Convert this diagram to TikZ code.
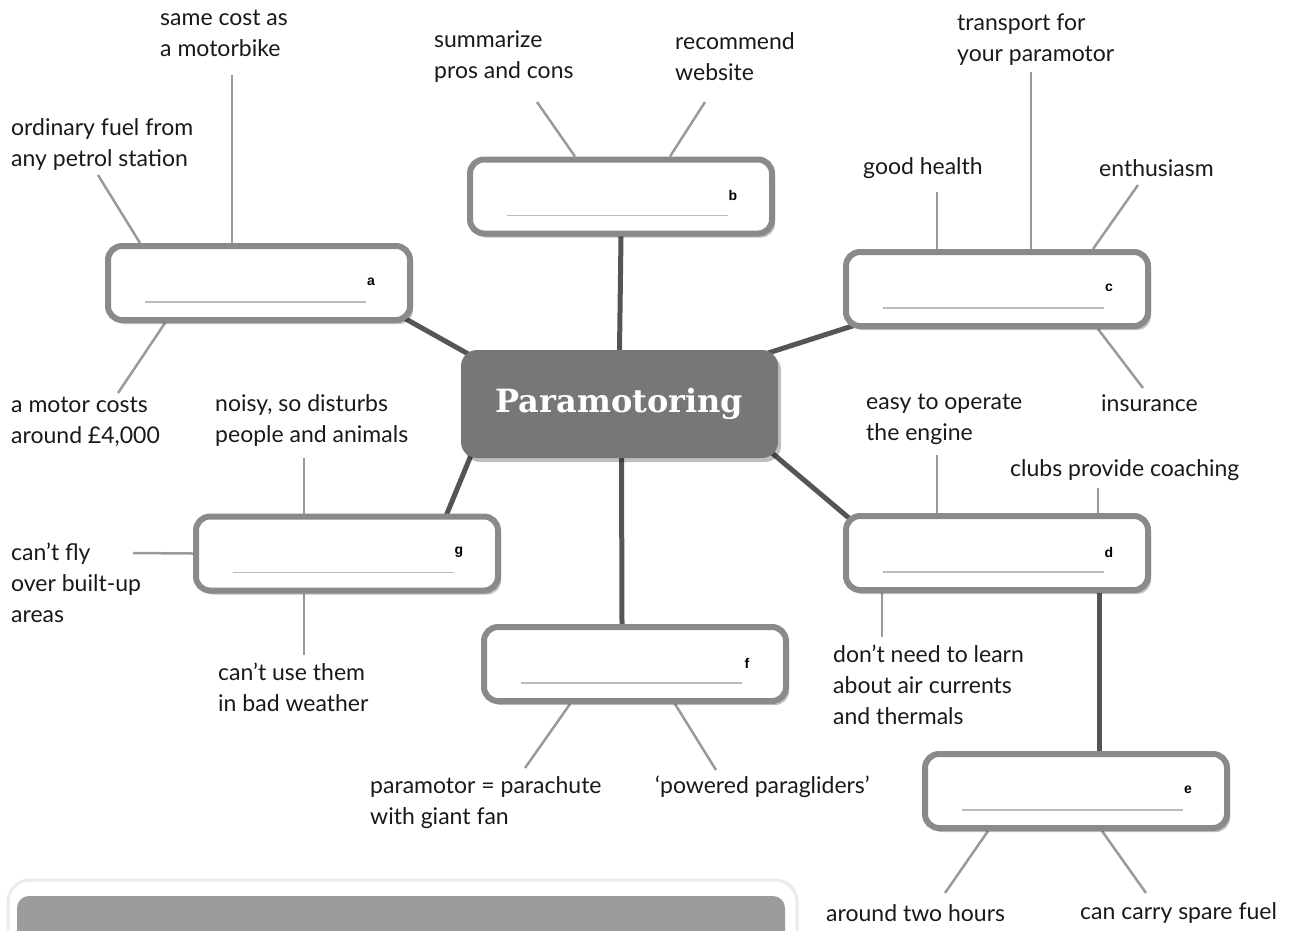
\documentclass[tikz,border=0pt]{standalone}
\usepackage{fontspec}
\setmainfont{Lato}
\newfontfamily\titlefont{DejaVu Serif}
\newfontfamily\labfont{Liberation Sans}
\usetikzlibrary{shadows,backgrounds}
\definecolor{boxedge}{HTML}{8A8A8A}
\definecolor{thick}{HTML}{555555}
\definecolor{thin}{HTML}{9A9A9A}
\definecolor{hub}{HTML}{777777}
\definecolor{panel}{HTML}{9C9C9C}
\definecolor{blank}{HTML}{BBBBBB}
\tikzset{
  ansbox/.style={draw=boxedge, line width=6pt, rounded corners=14pt, fill=white,
    minimum width=302pt, minimum height=74pt, inner sep=0pt,
    drop shadow={shadow xshift=3pt, shadow yshift=-4pt, opacity=0.25, fill=black}},
  hubbox/.style={fill=hub, rounded corners=16pt, minimum width=317pt, minimum height=108pt,
    inner sep=0pt, text=white, font=\titlefont\bfseries\fontsize{32}{36}\selectfont,
    drop shadow={shadow xshift=3pt, shadow yshift=-4pt, opacity=0.25, fill=black}},
  note/.style={anchor=west, align=left, inner sep=0pt, font=\fontsize{23}{31}\selectfont, text=black!90},
  letter/.style={font=\labfont\bfseries\fontsize{14}{16}\selectfont, inner sep=0pt},
  spoke/.style={draw=thick, line width=5pt, shorten <=-14pt, shorten >=-14pt},
  twig/.style={draw=thin, line width=2.5pt},
  blankline/.style={draw=blank, line width=1.5pt}
}
\begin{document}
\begin{tikzpicture}[x=1pt,y=-1pt]
\useasboundingbox (0,0) rectangle (1297,930);
% bottom panel
\begin{scope}
\clip (0,0) rectangle (1297,930);
\fill[white, draw=black!8, line width=3pt, rounded corners=22pt, drop shadow={shadow xshift=0pt, shadow yshift=-2pt, opacity=0.12, fill=black}] (8,880) rectangle (797,990);
\fill[panel, rounded corners=12pt] (17,896) rectangle (785,990);
\end{scope}
% boxes
\node[hubbox] (C) at (619.5,404) {\raisebox{-2pt}{Paramotoring}};
\node[ansbox] (a) at (259,283) {};
\node[ansbox] (b) at (621,196.5) {};
\node[ansbox] (c) at (997,289) {};
\node[ansbox] (d) at (997,553) {};
\node[ansbox] (e) at (1076,791) {};
\node[ansbox] (f) at (635,664) {};
\node[ansbox] (g) at (347,553.5) {};
% letters and blank lines
\foreach \n in {a,b,c,d,e,f,g}{
  \node[letter] (l\n) at ([xshift=-42pt,yshift=1pt]\n.east) {\n};
  \draw[blankline] ([xshift=40pt,yshift=-19pt]\n.west) -- ([xshift=-47pt,yshift=-19pt]\n.east);
}
% notes
\node[note] (n1) at (160,33.5) {same cost as\\a motorbike};
\node[note] (n2) at (11,144.5) {ordinary fuel from\\any petrol station};
\node[note] (n3) at (11,421.5) {a motor costs\\around £4,000};
\node[note] (n4) at (434,56.5) {summarize\\pros and cons};
\node[note] (n5) at (675,56.5) {recommend\\website};
\node[note] (n6) at (957,39.5) {transport for\\your paramotor};
\node[note] (n7) at (863,168) {good health};
\node[note] (n8) at (1099,168) {enthusiasm};
\node[note] (n9) at (1101,403) {insurance};
\node[note] (n10) at (866,419.5) {easy to operate\\the engine};
\node[note] (n11) at (1010,470) {clubs provide coaching};
\node[note] (n12) at (833,685) {don’t need to learn\\about air currents\\and thermals};
\node[note] (n13) at (215,420.5) {noisy, so disturbs\\people and animals};
\node[note] (n14) at (11,583) {can’t fly\\over built-up\\areas};
\node[note] (n15) at (218,687.5) {can’t use them\\in bad weather};
\node[note] (n16) at (370,802.5) {paramotor = parachute\\with giant fan};
\node[note] (n17) at (655,787) {‘powered paragliders’};
\node[note] (n18) at (826,913) {around two hours};
\node[note] (n19) at (1080,913) {can carry spare fuel};
% twig end points
\coordinate (e1) at (232,75);
\coordinate (e2) at (98,175);
\coordinate (e3) at (118,393);
\coordinate (e4) at (537,102);
\coordinate (e5) at (705,102);
\coordinate (e6) at (1031,72);
\coordinate (e7) at (937,192);
\coordinate (e8) at (1138,185);
\coordinate (e9) at (1143,388);
\coordinate (e10) at (937,455);
\coordinate (e11) at (1098,488);
\coordinate (e12) at (882,637);
\coordinate (e13) at (304,458);
\coordinate (e14) at (133,553);
\coordinate (e15) at (304,655);
\coordinate (e16) at (525,768);
\coordinate (e17) at (716,770);
\coordinate (e18) at (945,893);
\coordinate (e19) at (1146,893);
\begin{scope}[on background layer]
\draw[spoke] (C.north west) -- (a.south east);
\draw[spoke] (C.north) -- (b.south);
\draw[spoke] (C.north east) -- (c.south west);
\draw[spoke] (C.south east) -- (d.north west);
\draw[spoke] ([xshift=9pt]C.south west) -- ([xshift=-54pt]g.north east);
\draw[spoke] ([xshift=2pt]C.south) -- ([xshift=-13pt]f.north);
\draw[spoke] ([xshift=102pt]d.south) -- ([xshift=23pt]e.north);
\draw[twig] ([xshift=127pt]a.north west) -- (e1);
\draw[twig] ([xshift=35pt]a.north west) -- (e2);
\draw[twig] ([xshift=60pt]a.south west) -- (e3);
\draw[twig] ([xshift=108pt]b.north west) -- (e4);
\draw[twig] ([xshift=203pt]b.north west) -- (e5);
\draw[twig] ([xshift=188pt]c.north west) -- (e6);
\draw[twig] ([xshift=94pt]c.north west) -- (e7);
\draw[twig] ([xshift=250pt]c.north west) -- (e8);
\draw[twig] ([xshift=255pt]c.south west) -- (e9);
\draw[twig] ([xshift=94pt]d.north west) -- (e10);
\draw[twig] ([xshift=255pt]d.north west) -- (e11);
\draw[twig] ([xshift=39pt]d.south west) -- (e12);
\draw[twig] ([xshift=111pt]g.north west) -- (e13);
\draw[twig] (g.west) -- (e14);
\draw[twig] ([xshift=111pt]g.south west) -- (e15);
\draw[twig] ([xshift=89pt]f.south west) -- (e16);
\draw[twig] ([xshift=194pt]f.south west) -- (e17);
\draw[twig] ([xshift=66pt]e.south west) -- (e18);
\draw[twig] ([xshift=180pt]e.south west) -- (e19);
\end{scope}
\end{tikzpicture}
\end{document}
